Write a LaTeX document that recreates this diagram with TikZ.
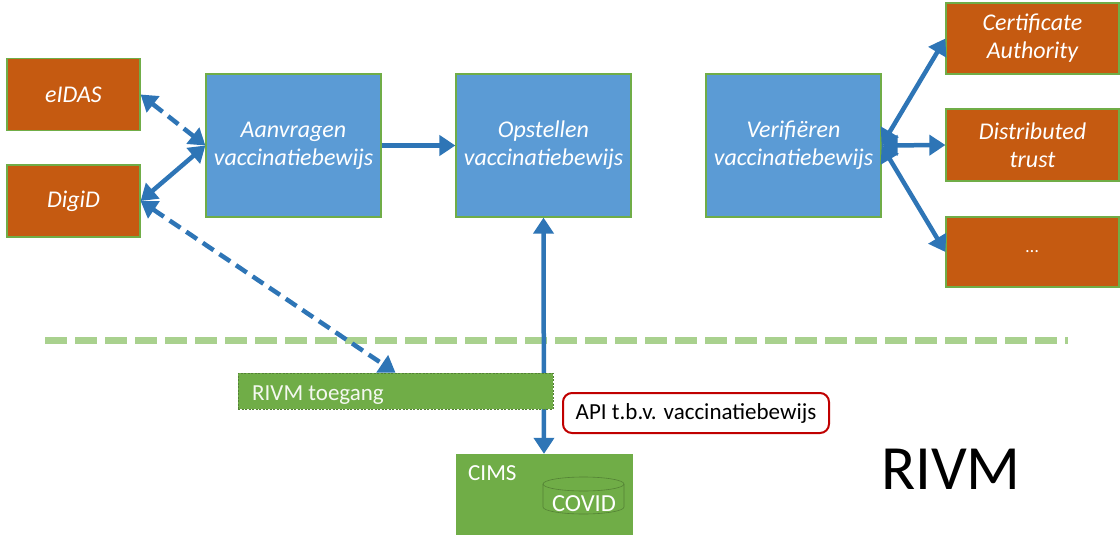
\documentclass[tikz,border=0pt]{standalone}
\usepackage{fontspec}
\setmainfont{Carlito}
\usetikzlibrary{arrows.meta}
\definecolor{orng}{HTML}{C55A11}
\definecolor{bluefill}{HTML}{5B9BD5}
\definecolor{arrowblue}{HTML}{2E75B6}
\definecolor{gfill}{HTML}{70AD47}
\definecolor{gdark}{HTML}{548235}
\definecolor{glight}{HTML}{A9D18E}
\definecolor{redb}{HTML}{C00000}
\tikzset{
  box/.style={draw=gfill, line width=1.2pt, text=white, font=\fontsize{24}{28}\selectfont\itshape, align=center, inner sep=0pt},
  ext/.style={box, fill=orng},
  proc/.style={box, fill=bluefill, minimum width=175pt, minimum height=143pt},
  conn/.style={draw=arrowblue, line width=4.5pt, {Triangle[length=16pt,width=20pt]}-{Triangle[length=16pt,width=20pt]}},
  connr/.style={draw=arrowblue, line width=4.5pt, -{Triangle[length=16pt,width=20pt]}},
  dconn/.style={conn, dash pattern=on 13pt off 7pt},
  lbl/.style={font=\fontsize{23}{26}\selectfont, inner sep=0pt},
}
\begin{document}
\begin{tikzpicture}[x=1pt,y=-1pt]
\useasboundingbox (0,0) rectangle (1120,536);
% separator
\draw[glight, line width=7pt, dash pattern=on 22pt off 8pt] (45,340) -- (1068,340);
% nodes
\node[ext, minimum width=133pt, minimum height=72pt] (eidas) at (73.5,94.5) {eIDAS};
\node[ext, minimum width=133pt, minimum height=72pt] (digid) at (73.5,201) {DigiD};
\node[proc] (aanv) at (293.5,145.5) {Aanvragen\\vaccinatiebewijs};
\node[proc] (opst) at (543.5,145.5) {Opstellen\\vaccinatiebewijs};
\node[proc] (verif) at (793.5,145.5) {Verifiëren\\vaccinatiebewijs};
\node[ext, minimum width=173pt, minimum height=71pt] (ca) at (1032.5,38.5) {Certificate\\Authority};
\node[ext, minimum width=173pt, minimum height=72pt] (dt) at (1032.5,145) {Distributed\\trust};
\node[ext, minimum width=173pt, minimum height=70pt, font=\fontsize{18}{22}\selectfont\itshape] (dots) at (1032.5,252) {...};
\node[fill=gfill, draw=gfill, minimum width=176pt, minimum height=80pt, inner sep=0pt] (cims) at (544,494) {};
\node[lbl, anchor=base west, text=white] (cimslbl) at (468,480) {CIMS};
% cylinder
\fill[gfill] (543,484) -- (543,507) arc[start angle=180, end angle=0, x radius=40.5, y radius=7] -- (624,484) -- cycle;
\draw[gdark, line width=0.6pt] (543,484) -- (543,507) arc[start angle=180, end angle=0, x radius=40.5, y radius=7] -- (624,484);
\draw[gdark, line width=0.6pt] (583.5,484) ellipse[x radius=40.5, y radius=7];
\node[anchor=base, text=white, font=\fontsize{24.5}{28}\selectfont, inner sep=0pt] (covid) at (584,511) {COVID};
% connectors
\draw[connr] (aanv.east) -- (opst.west);
\draw[dconn] (eidas.east) -- (aanv.west);
\draw[conn] (digid.east) -- (aanv.west);
\draw[conn] (opst.south) -- (cims.north);
\draw[conn] (verif.east) -- (ca.west);
\draw[conn] (verif.east) -- (dt.west);
\draw[conn] (verif.east) -- (dots.west);
% RIVM toegang drawn over the vertical connector
\node[fill=gfill, draw=gdark, line width=0.7pt, dash pattern=on 2pt off 1.5pt, minimum width=315pt, minimum height=36pt, inner sep=0pt] (toegang) at (395.5,391) {};
\node[lbl, anchor=base west, text=white!92!gfill] (toeglbl) at (252,400) {RIVM toegang};
\draw[dconn] (digid.east) -- (toegang.north);
% API label
\node[lbl, draw=redb, line width=2pt, rounded corners=9pt, fill=white, minimum width=266pt, minimum height=40pt] (api) at (696,413) {API t.b.v. vaccinatiebewijs};
% RIVM
\node[font=\fontsize{63}{66}\selectfont, inner sep=0pt] (rivm) at (951,469) {RIVM};
\end{tikzpicture}
\end{document}
